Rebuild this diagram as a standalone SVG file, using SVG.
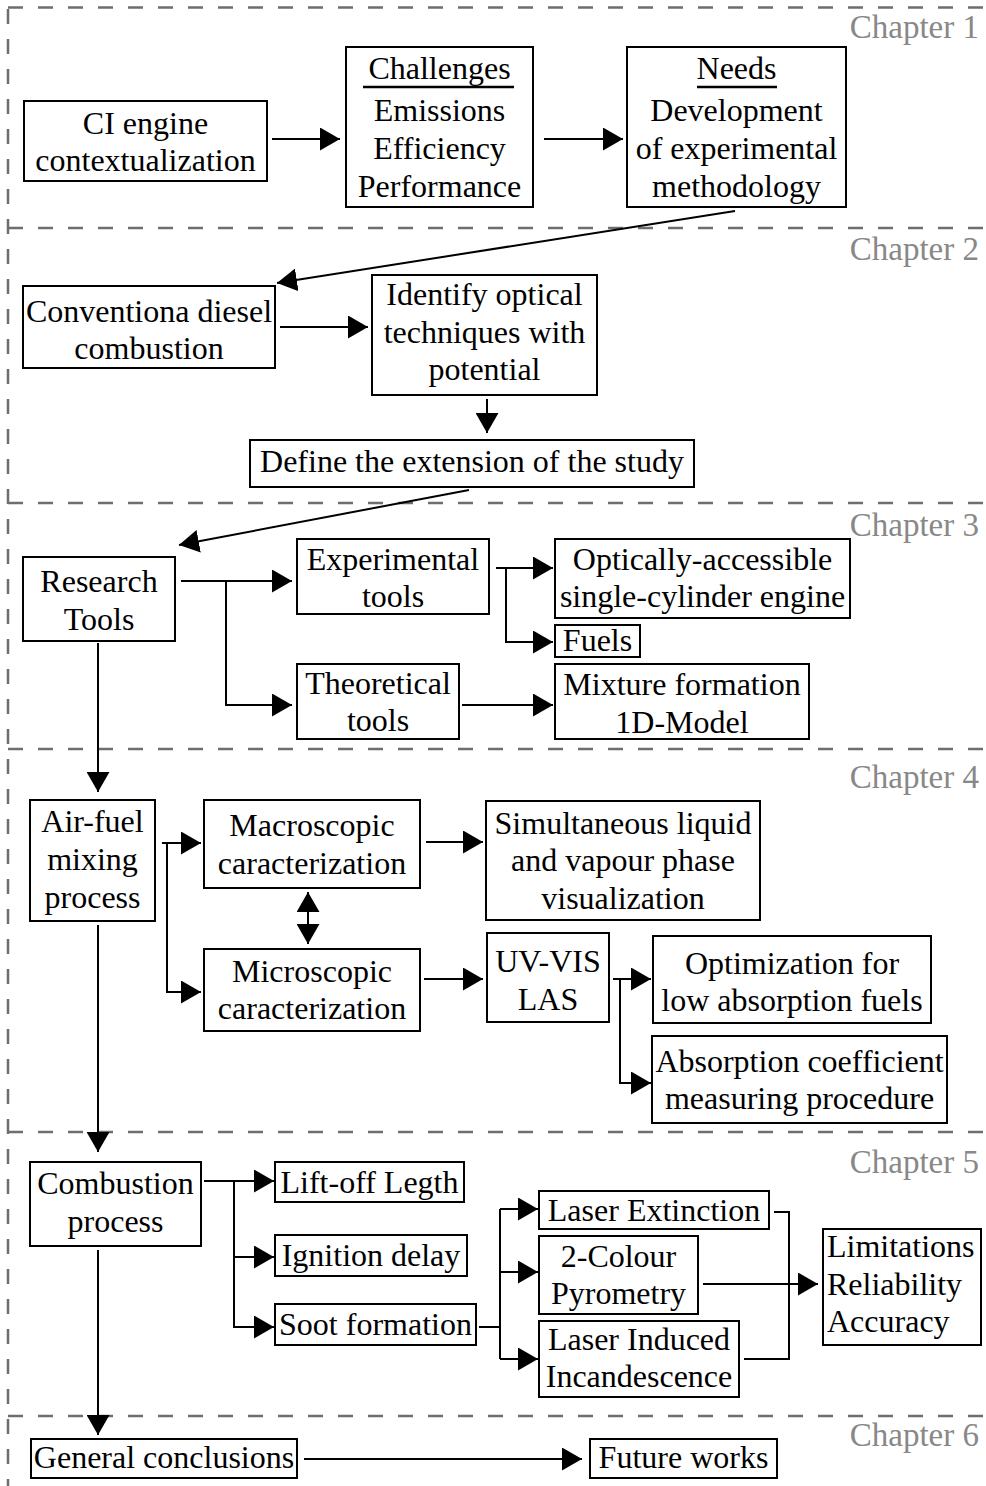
<svg xmlns="http://www.w3.org/2000/svg" width="986" height="1486" viewBox="0 0 986 1486">
<style>
.box{fill:#fff;stroke:#000;stroke-width:2}
text{font-family:"Liberation Serif","Times New Roman",serif;font-size:32px;fill:#000}
.c{text-anchor:middle}
.ch{fill:#888;text-anchor:end;font-size:33px}
.dash{stroke:#6e6e6e;stroke-width:2.5;stroke-dasharray:15 15;fill:none}
.conn path{stroke:#000;stroke-width:2;fill:none}
.ul{stroke:#000;stroke-width:2.5}
</style>
<defs>
<marker id="ah" markerUnits="userSpaceOnUse" markerWidth="20" markerHeight="23" refX="20" refY="11.5" orient="auto-start-reverse">
<path d="M0,0 L20,11.5 L0,23 z" fill="#000"/>
</marker>
</defs>
<rect width="986" height="1486" fill="#fff"/>
<g id="chapters">
<path class="dash" d="M8,7.5 H986"/>
<path class="dash" d="M8,228 H986"/>
<path class="dash" d="M8,503 H986"/>
<path class="dash" d="M8,749 H986"/>
<path class="dash" d="M8,1132 H986"/>
<path class="dash" d="M8,1416 H986"/>
<path class="dash" d="M8,9 V1486"/>
<text class="ch" x="979" y="38">Chapter 1</text>
<text class="ch" x="979" y="260">Chapter 2</text>
<text class="ch" x="979" y="536">Chapter 3</text>
<text class="ch" x="979" y="788">Chapter 4</text>
<text class="ch" x="979" y="1173">Chapter 5</text>
<text class="ch" x="979" y="1446">Chapter 6</text>
</g>
<g class="conn" id="connectors">
<path d="M272,139 H340" marker-end="url(#ah)"/>
<path d="M544,139 H623" marker-end="url(#ah)"/>
<path d="M735,211 L277,283" marker-end="url(#ah)"/>
<path d="M280,327 H368" marker-end="url(#ah)"/>
<path d="M487,399 V433" marker-end="url(#ah)"/>
<path d="M469,490 L179,545" marker-end="url(#ah)"/>
<path d="M181,581 H292" marker-end="url(#ah)"/>
<path d="M226,581 V705 H292" marker-end="url(#ah)"/>
<path d="M496,568 H553" marker-end="url(#ah)"/>
<path d="M506,568 V642 H553" marker-end="url(#ah)"/>
<path d="M462,705 H553" marker-end="url(#ah)"/>
<path d="M98,643 V792" marker-end="url(#ah)"/>
<path d="M162,843 H201" marker-end="url(#ah)"/>
<path d="M167,843 V992 H201" marker-end="url(#ah)"/>
<path d="M426,842 H483" marker-end="url(#ah)"/>
<path d="M308,892 V944" marker-start="url(#ah)" marker-end="url(#ah)"/>
<path d="M424,979 H483" marker-end="url(#ah)"/>
<path d="M613,979 H651" marker-end="url(#ah)"/>
<path d="M620,979 V1083 H651" marker-end="url(#ah)"/>
<path d="M98,925 V1152" marker-end="url(#ah)"/>
<path d="M204,1181 H274" marker-end="url(#ah)"/>
<path d="M234,1181 V1327 H274" marker-end="url(#ah)"/>
<path d="M234,1257 H274" marker-end="url(#ah)"/>
<path d="M479,1327 H500"/>
<path d="M500,1209 V1359"/>
<path d="M500,1209 H538" marker-end="url(#ah)"/>
<path d="M500,1272 H538" marker-end="url(#ah)"/>
<path d="M500,1359 H538" marker-end="url(#ah)"/>
<path d="M774,1212 H789 V1359 H744"/>
<path d="M703,1284 H818" marker-end="url(#ah)"/>
<path d="M98,1250 V1435" marker-end="url(#ah)"/>
<path d="M304,1459 H582" marker-end="url(#ah)"/>
</g>
<g id="n-ci"><rect class="box" x="24" y="101" width="243" height="80"/><text class="c" x="145.5" y="134">CI engine</text><text class="c" x="145.5" y="171">contextualization</text></g>
<g id="n-challenges"><rect class="box" x="346" y="47" width="187" height="160"/><text class="c" x="439.5" y="79">Challenges</text><line class="ul" x1="363" y1="87" x2="514" y2="87"/><text class="c" x="439.5" y="121">Emissions</text><text class="c" x="439.5" y="159">Efficiency</text><text class="c" x="439.5" y="197">Performance</text></g>
<g id="n-needs"><rect class="box" x="627" y="47" width="219" height="160"/><text class="c" x="736.5" y="79">Needs</text><line class="ul" x1="697" y1="87" x2="777" y2="87"/><text class="c" x="736.5" y="121">Development</text><text class="c" x="736.5" y="159">of experimental</text><text class="c" x="736.5" y="197">methodology</text></g>
<g id="n-conv"><rect class="box" x="23" y="286" width="252" height="82"/><text class="c" x="149" y="322">Conventiona diesel</text><text class="c" x="149" y="359">combustion</text></g>
<g id="n-identify"><rect class="box" x="372" y="275" width="225" height="120"/><text class="c" x="484.5" y="305">Identify optical</text><text class="c" x="484.5" y="343">techniques with</text><text class="c" x="484.5" y="380">potential</text></g>
<g id="n-define"><rect class="box" x="250" y="440" width="444" height="47"/><text class="c" x="472" y="472">Define the extension of the study</text></g>
<g id="n-research"><rect class="box" x="23" y="557" width="152" height="84"/><text class="c" x="99" y="592">Research</text><text class="c" x="99" y="630">Tools</text></g>
<g id="n-exp"><rect class="box" x="297" y="539" width="192" height="75"/><text class="c" x="393" y="570">Experimental</text><text class="c" x="393" y="607">tools</text></g>
<g id="n-optical"><rect class="box" x="555" y="539" width="295" height="79"/><text class="c" x="702.5" y="570">Optically-accessible</text><text class="c" x="702.5" y="607">single-cylinder engine</text></g>
<g id="n-fuels"><rect class="box" x="555" y="625" width="85" height="32"/><text class="c" x="597.5" y="651">Fuels</text></g>
<g id="n-theo"><rect class="box" x="297" y="664" width="162" height="75"/><text class="c" x="378" y="694">Theoretical</text><text class="c" x="378" y="731">tools</text></g>
<g id="n-mix"><rect class="box" x="555" y="664" width="254" height="75"/><text class="c" x="682" y="695">Mixture formation</text><text class="c" x="682" y="733">1D-Model</text></g>
<g id="n-airfuel"><rect class="box" x="30" y="800" width="125" height="121"/><text class="c" x="92.5" y="832">Air-fuel</text><text class="c" x="92.5" y="870">mixing</text><text class="c" x="92.5" y="908">process</text></g>
<g id="n-macro"><rect class="box" x="204" y="800" width="216" height="88"/><text class="c" x="312" y="836">Macroscopic</text><text class="c" x="312" y="874">caracterization</text></g>
<g id="n-simul"><rect class="box" x="486" y="801" width="274" height="119"/><text class="c" x="623" y="834">Simultaneous liquid</text><text class="c" x="623" y="871">and vapour phase</text><text class="c" x="623" y="909">visualization</text></g>
<g id="n-micro"><rect class="box" x="204" y="949" width="216" height="82"/><text class="c" x="312" y="982">Microscopic</text><text class="c" x="312" y="1019">caracterization</text></g>
<g id="n-uvvis"><rect class="box" x="487" y="933" width="122" height="89"/><text class="c" x="548" y="972">UV-VIS</text><text class="c" x="548" y="1010">LAS</text></g>
<g id="n-optim"><rect class="box" x="653" y="936" width="278" height="87"/><text class="c" x="792" y="974">Optimization for</text><text class="c" x="792" y="1011">low absorption fuels</text></g>
<g id="n-absorp"><rect class="box" x="652" y="1036" width="295" height="87"/><text class="c" x="799.5" y="1072">Absorption coefficient</text><text class="c" x="799.5" y="1109">measuring procedure</text></g>
<g id="n-combustion"><rect class="box" x="30" y="1162" width="171" height="84"/><text class="c" x="115.5" y="1194">Combustion</text><text class="c" x="115.5" y="1232">process</text></g>
<g id="n-liftoff"><rect class="box" x="275" y="1162" width="189" height="40"/><text class="c" x="369.5" y="1193">Lift-off Legth</text></g>
<g id="n-ignition"><rect class="box" x="275" y="1235" width="192" height="41"/><text class="c" x="371" y="1266">Ignition delay</text></g>
<g id="n-soot"><rect class="box" x="275" y="1304" width="201" height="41"/><text class="c" x="375.5" y="1335">Soot formation</text></g>
<g id="n-laserext"><rect class="box" x="539" y="1191" width="230" height="38"/><text class="c" x="654" y="1221">Laser Extinction</text></g>
<g id="n-2colour"><rect class="box" x="539" y="1236" width="159" height="78"/><text class="c" x="618.5" y="1267">2-Colour</text><text class="c" x="618.5" y="1304">Pyrometry</text></g>
<g id="n-lii"><rect class="box" x="539" y="1321" width="200" height="76"/><text class="c" x="639" y="1350">Laser Induced</text><text class="c" x="639" y="1387">Incandescence</text></g>
<g id="n-limits"><rect class="box" x="823" y="1229" width="158" height="116"/><text x="827" y="1257">Limitations</text><text x="827" y="1295">Reliability</text><text x="827" y="1332">Accuracy</text></g>
<g id="n-general"><rect class="box" x="31" y="1439" width="266" height="39"/><text class="c" x="164" y="1468">General conclusions</text></g>
<g id="n-future"><rect class="box" x="590" y="1439" width="187" height="39"/><text class="c" x="683.5" y="1468">Future works</text></g>
</svg>
